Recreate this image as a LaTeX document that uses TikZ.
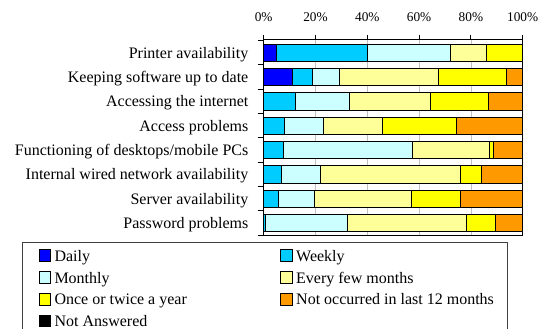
\documentclass[tikz,border=0pt]{standalone}
\usepackage{fontspec}
\setmainfont{Liberation Serif}
\definecolor{cDaily}{HTML}{0000FF}
\definecolor{cWeekly}{HTML}{00CCFF}
\definecolor{cMonthly}{HTML}{CCFFFF}
\definecolor{cFew}{HTML}{FFFF99}
\definecolor{cOnce}{HTML}{FFFF00}
\definecolor{cNot}{HTML}{FF9900}
\definecolor{cNA}{HTML}{000000}
\definecolor{gridgray}{HTML}{C0C0C0}
\definecolor{framegray}{HTML}{404040}
\newcommand\myseg[4]{\ifdim #3pt>#2pt \draw[segbox, fill=#4] ({263.7+2.59*#2},{#1-8.6}) rectangle ({263.7+2.59*#3},{#1+8.6});\fi}
\newcommand\mybar[8]{%
  \pgfmathsetmacro\yc{52.7+24.33*#1}%
  \node[catlabel] (lab#1) at (248.5,{\yc+5.5}) {#2};%
  \myseg{\yc}{0}{#3}{cDaily}%
  \myseg{\yc}{#3}{#4}{cWeekly}%
  \myseg{\yc}{#4}{#5}{cMonthly}%
  \myseg{\yc}{#5}{#6}{cFew}%
  \myseg{\yc}{#6}{#7}{cOnce}%
  \myseg{\yc}{#7}{#8}{cNot}%
}
\tikzset{
  segbox/.style={draw=black, line width=0.8pt},
  catlabel/.style={anchor=base east, inner sep=0pt, font=\fontsize{16}{19}\selectfont},
  ticklabel/.style={anchor=base, inner sep=0pt, font=\fontsize{13.3}{16}\selectfont},
  legsq/.style={draw=black, line width=0.6pt, minimum width=11.5pt, minimum height=11.5pt, inner sep=0pt},
  legtext/.style={anchor=base west, inner sep=0pt, font=\fontsize{16}{19}\selectfont},
  gridline/.style={draw=gridgray, line width=0.8pt},
  axisline/.style={draw=black, line width=0.9pt}
}
\begin{document}
\begin{tikzpicture}[x=1pt, y=-1pt]
\useasboundingbox (0,0) rectangle (546,329);
\fill[white] (0,0) rectangle (546,329);
% grid
\foreach \p in {20,40,60,80} {
  \draw[gridline] ({263.7+2.59*\p},39.8) -- ({263.7+2.59*\p},235);
}
% bars
\mybar{0}{Printer availability}{4.8}{40.2}{72.1}{86.1}{100}{100}
\mybar{1}{Keeping software up to date}{11.2}{18.8}{29.3}{67.4}{93.7}{100}
\mybar{2}{Accessing the internet}{0}{12.4}{32.9}{64.5}{86.6}{100}
\mybar{3}{Access problems}{0}{8.0}{23.2}{45.8}{74.3}{100}
\mybar{4}{Functioning of desktops/mobile PCs}{0}{7.7}{57.4}{87.1}{88.5}{100}
\mybar{5}{Internal wired network availability}{0}{6.7}{21.9}{76.1}{84.2}{100}
\mybar{6}{Server availability}{0}{5.8}{19.6}{57.1}{75.8}{100}
\mybar{7}{Password problems}{0}{0.7}{32.2}{78.1}{89.3}{100}
% axis frame
\draw[axisline] (263.7,39.8) rectangle (522.7,235);
\foreach \p in {0,20,40,60,80,100} {
  \draw[axisline] ({263.7+2.59*\p},34.8) -- ({263.7+2.59*\p},39.8);
  \node[ticklabel] (tick\p) at ({263.7+2.59*\p},21.7) {\p\%};
}
\foreach \k in {0,...,8} {
  \draw[axisline] (257.7,{40.5+24.33*\k}) -- (263.7,{40.5+24.33*\k});
}
% legend
\draw[draw=framegray, line width=0.9pt] (22.5,330) -- (22.5,242.5) -- (507,242.5) -- (507,330);
\node[legsq, fill=cDaily]   (sqD) at (45,255.5) {};
\node[legtext] (tD) at (54.3,261.3) {Daily};
\node[legsq, fill=cWeekly]  (sqW) at (286.5,255.5) {};
\node[legtext] (tW) at (296,261.3) {Weekly};
\node[legsq, fill=cMonthly] (sqM) at (45,277.3) {};
\node[legtext] (tM) at (54.3,283.1) {Monthly};
\node[legsq, fill=cFew]     (sqE) at (286.5,277.3) {};
\node[legtext] (tE) at (296,283.1) {Every few months};
\node[legsq, fill=cOnce]    (sqO) at (45,299.1) {};
\node[legtext] (tO) at (54.3,304.9) {Once or twice a year};
\node[legsq, fill=cNot]     (sqN) at (286.5,299.1) {};
\node[legtext] (tN) at (296,304.9) {Not occurred in last 12 months};
\node[legsq, fill=cNA]      (sqA) at (45,320.9) {};
\node[legtext] (tA) at (54.3,326.7) {Not Answered};
\end{tikzpicture}
\end{document}
